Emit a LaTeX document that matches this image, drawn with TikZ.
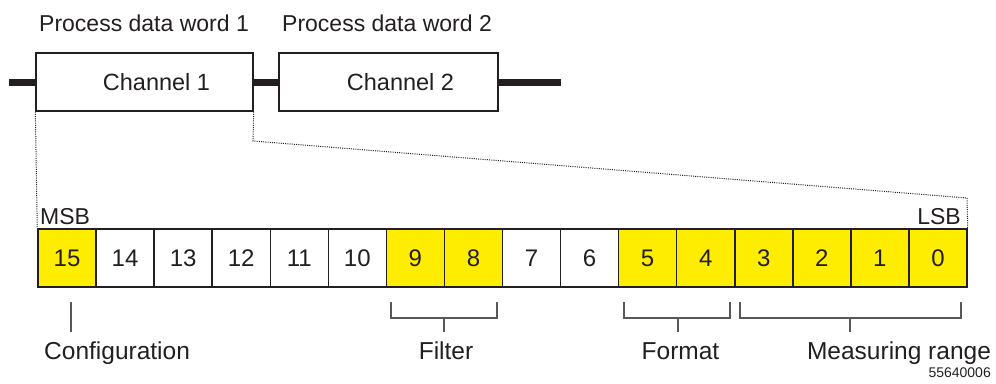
\documentclass[tikz,border=0pt]{standalone}
\usepackage{fontspec}
\setmainfont{Liberation Sans}
\definecolor{ylw}{RGB}{255,237,0}
\definecolor{ink}{RGB}{35,31,32}
\begin{document}
\begin{tikzpicture}[x=1pt,y=-1pt,
  chbox/.style={draw=ink, line width=1.3pt, minimum height=58pt, inner sep=0pt,
    font=\fontsize{23.5}{27}\selectfont, text=ink},
  bitcell/.style={draw=ink, line width=1.5pt, minimum width=58.06pt, minimum height=58pt,
    inner sep=0pt, font=\fontsize{24}{27}\selectfont, text=ink},
  hi/.style={bitcell, fill=ylw},
  lo/.style={bitcell, fill=white},
  bus/.style={draw=ink, line width=7pt},
  zoomline/.style={draw=ink, line width=1pt, dash pattern=on 1pt off 1.2pt},
  bracket/.style={draw=ink!75, line width=1.1pt},
  toplbl/.style={text=ink, font=\fontsize{23}{27}\selectfont, inner sep=0pt},
  lbl/.style={text=ink, font=\fontsize{24.5}{28}\selectfont, inner sep=0pt},
]
\useasboundingbox (0,0) rectangle (996,383);

% top labels
\node[toplbl, anchor=base west] (pdw1) at (39,31) {Process data word 1};
\node[toplbl, anchor=base west] (pdw2) at (282,31) {Process data word 2};

% channel boxes
\node[chbox, minimum width=217pt] (ch1) at (144.5,82) {\hspace*{24pt}Channel 1};
\node[chbox, minimum width=219pt] (ch2) at (388.5,82) {\hspace*{24pt}Channel 2};

% bus
\coordinate (busL) at (9,82);
\coordinate (busR) at (561,82);
\draw[bus] (busL) -- (ch1.west);
\draw[bus] (ch1.east) -- (ch2.west);
\draw[bus] (ch2.east) -- (busR);

% bit cells
\foreach \k/\s in {15/hi,14/lo,13/lo,12/lo,11/lo,10/lo,9/hi,8/hi,7/lo,6/lo,5/hi,4/hi,3/hi,2/hi,1/hi,0/hi}{
  \pgfmathsetmacro\cx{38+(15-\k+0.5)*58.0625}
  \node[\s] (c\k) at (\cx,258) {\k};
}

% MSB / LSB
\node[toplbl, anchor=base west] (msb) at (40,224) {MSB};
\node[toplbl, anchor=base east] (lsb) at (961,224) {LSB};

% zoom dotted lines
\coordinate (zk1) at (253,141);
\coordinate (zk2) at (967,198);
\draw[zoomline] (ch1.south west) -- (c15.north west);
\draw[zoomline] (ch1.south east) -- (zk1) -- (zk2) -- (c0.north east);

% bottom labels
\node[lbl, anchor=base west] (cfg) at (44,359) {Configuration};
\node[lbl, anchor=base] (flt) at (446,359) {Filter};
\node[lbl, anchor=base] (fmt) at (680.5,359) {Format};
\node[lbl, anchor=base] (mrg) at (899,359) {Measuring range};
\node[text=ink, font=\fontsize{14}{16}\selectfont, inner sep=0pt, anchor=base east] (fig) at (991,377) {55640006};

% brackets
\coordinate (cfgA) at (71,302);
\coordinate (cfgB) at (71,332);
\draw[bracket] (cfgA) -- (cfgB);

\coordinate (fA) at (391,302); \coordinate (fB) at (497,302);
\coordinate (fS) at (444,318); \coordinate (fE) at (444,332);
\draw[bracket] (fA) -- (391,318) -- (497,318) -- (fB);
\draw[bracket] (fS) -- (fE);

\coordinate (oA) at (624,302); \coordinate (oB) at (730,302);
\coordinate (oS) at (678,318); \coordinate (oE) at (678,332);
\draw[bracket] (oA) -- (624,318) -- (730,318) -- (oB);
\draw[bracket] (oS) -- (oE);

\coordinate (mA) at (740,302); \coordinate (mB) at (961,302);
\coordinate (mS) at (850,318); \coordinate (mE) at (850,332);
\draw[bracket] (mA) -- (740,318) -- (961,318) -- (mB);
\draw[bracket] (mS) -- (mE);
\end{tikzpicture}
\end{document}
